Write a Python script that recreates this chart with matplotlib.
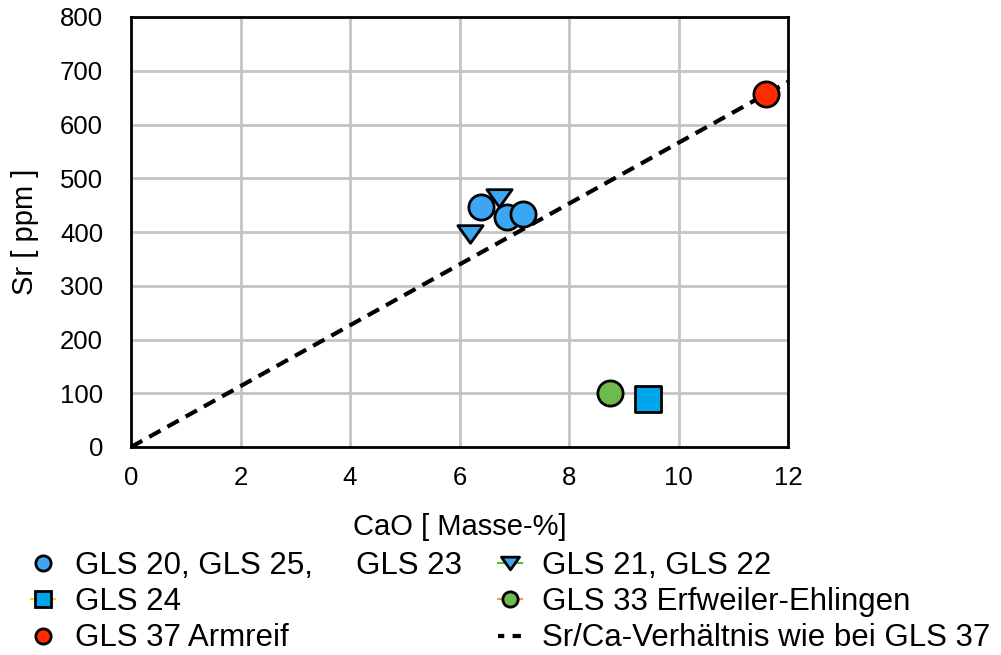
import matplotlib
matplotlib.use("Agg")
import matplotlib.pyplot as plt
from matplotlib.lines import Line2D
from matplotlib.path import Path

plt.rcParams['font.family'] = ['Liberation Sans', 'DejaVu Sans']

# Data
circ_x = [6.40, 6.86, 7.16]
circ_y = [446, 427, 434]
tri_x = [6.72, 6.19]
tri_y = [464, 396]
sq_x = [9.45]
sq_y = [90]
green_x = [8.74]
green_y = [101]
red_x = [11.59]
red_y = [656]
ratio_x = [0, 12.5]
ratio_slope = 656 / 11.59

xticks = [0, 2, 4, 6, 8, 10, 12]
yticks = [0, 100, 200, 300, 400, 500, 600, 700, 800]

labels = ["GLS 20, GLS 25,     GLS 23", "GLS 24", "GLS 37 Armreif",
          "GLS 21, GLS 22", "GLS 33 Erfweiler-Ehlingen", "Sr/Ca-Verhältnis wie bei GLS 37"]

c_blue = "#3ca6f2"
c_sq = "#00a6ec"
c_red = "#ff2a00"
c_green = "#6dbb4f"

tri = Path([(-1, 0.7), (1, 0.7), (0, -0.7), (-1, 0.7)],
           [Path.MOVETO, Path.LINETO, Path.LINETO, Path.CLOSEPOLY])

W, H = 1001, 655
fig = plt.figure(figsize=(W/100, H/100), dpi=100)
ax = fig.add_axes([131/W, 1-447/H, (788-131)/W, (447-17)/H])

S = 330
ax.plot(ratio_x, [v * ratio_slope for v in ratio_x], ls=(0, (3.1, 1.9)), color='black', lw=3, zorder=2)
ax.scatter(tri_x, tri_y, marker=tri, s=S, color=c_blue, edgecolor='black', linewidth=2, zorder=3)
ax.scatter(circ_x, circ_y, marker='o', s=S, color=c_blue, edgecolor='black', linewidth=2, zorder=4)
ax.scatter(green_x, green_y, marker='o', s=S, color=c_green, edgecolor='black', linewidth=2, zorder=4)
ax.scatter(sq_x, sq_y, marker='s', s=S, color=c_sq, edgecolor='black', linewidth=2, zorder=4)
ax.scatter(red_x, red_y, marker='o', s=S, color=c_red, edgecolor='black', linewidth=2, zorder=4)

ax.set_xlim(0, 12)
ax.set_ylim(0, 800)
ax.set_xticks(xticks)
ax.set_yticks(yticks)
ax.tick_params(labelsize=18.5, length=0)
ax.tick_params(axis='y', pad=20)
ax.tick_params(axis='x', pad=14)
ax.grid(True, color='#c4c4c4', lw=2)
ax.set_axisbelow(True)
for s in ax.spines.values():
    s.set_linewidth(2)
    s.set_color('black')

ax.set_xlabel("CaO [ Masse-%]", fontsize=21, labelpad=16)
ax.set_ylabel("Sr [ ppm ]", fontsize=21, labelpad=15)

ms = 11
h = [
    Line2D([], [], marker='o', ls='none', markersize=ms, markerfacecolor=c_blue, markeredgecolor='black', markeredgewidth=2),
    Line2D([], [], marker='s', color='#f0d800', lw=1.5, markersize=ms, markerfacecolor=c_sq, markeredgecolor='black', markeredgewidth=2),
    Line2D([], [], marker='o', ls='none', markersize=ms, markerfacecolor=c_red, markeredgecolor='black', markeredgewidth=2),
    Line2D([], [], marker=tri, color='#55bb33', lw=1.5, markersize=13, markerfacecolor=c_blue, markeredgecolor='black', markeredgewidth=2),
    Line2D([], [], marker='o', color='#f0a040', lw=1.5, markersize=ms, markerfacecolor=c_green, markeredgecolor='black', markeredgewidth=2),
    Line2D([], [], color='black', lw=3, ls=(0.5, (2.0, 2.0))),
]
common = dict(loc='upper left', frameon=False, fontsize=22.5, handlelength=0.78, handletextpad=0.64,
              labelspacing=0.2, borderpad=0, borderaxespad=0)
fig.legend(h[:3], labels[:3], bbox_to_anchor=(31/W, 1-551/H), **common)
fig.legend(h[3:], labels[3:], bbox_to_anchor=(498/W, 1-551/H), **common)

fig.savefig("out.png", dpi=100)
